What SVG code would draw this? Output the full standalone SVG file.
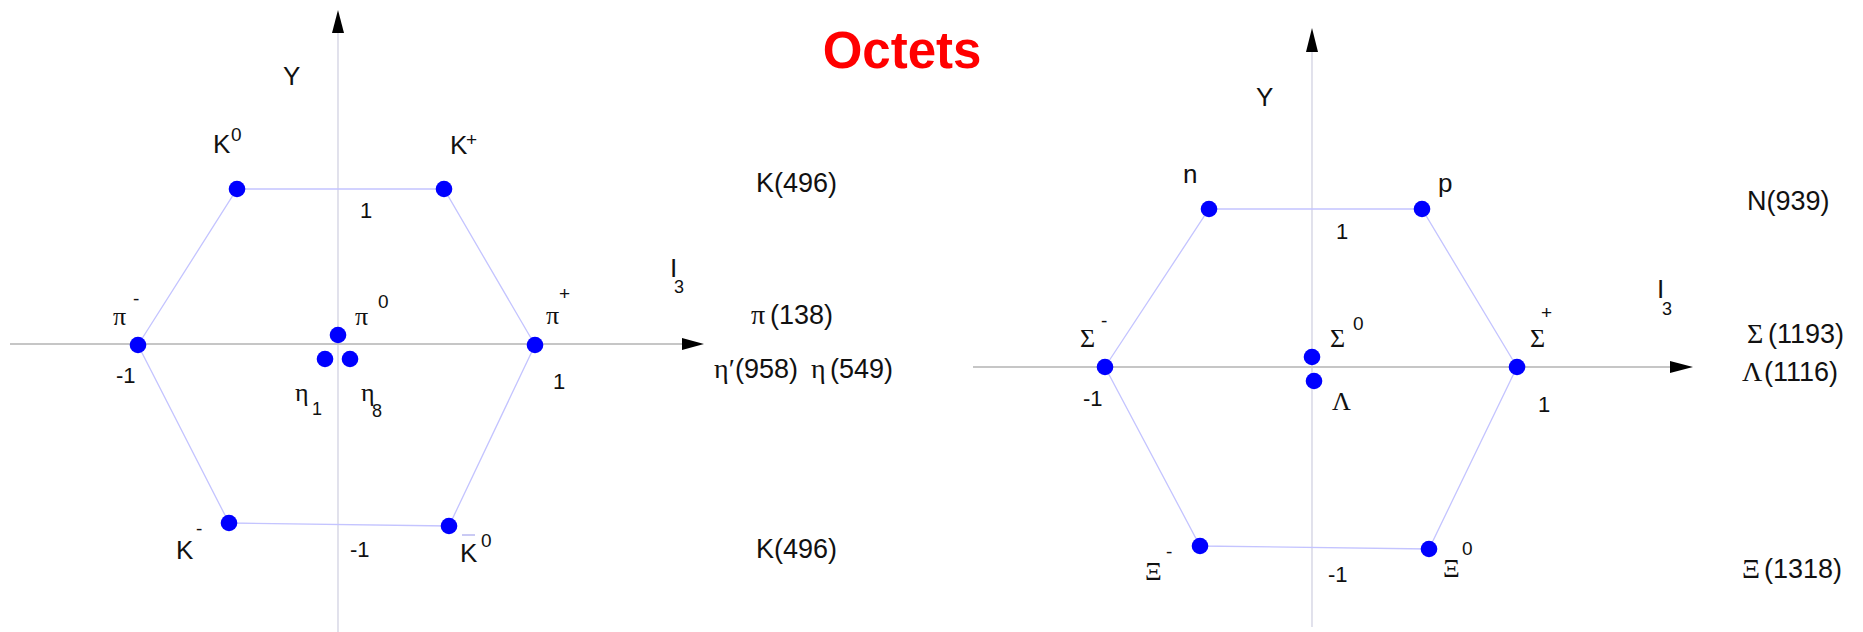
<svg xmlns="http://www.w3.org/2000/svg" width="1863" height="632" viewBox="0 0 1863 632">
<defs>
<style>
.dot{fill:#0000ff}
.edge{stroke:#c4c4ff;stroke-width:1.3;fill:none}
.haxis{stroke:#c6c6c6;stroke-width:2}
.vaxis{stroke:#d2d2e2;stroke-width:1.3}
.arrow{fill:#000}
.lbl{font-family:"Liberation Sans",Arial,sans-serif;font-size:26px;fill:#111}
.sup{font-family:"Liberation Sans",Arial,sans-serif;font-size:19px;fill:#111}
.sub{font-family:"Liberation Sans",Arial,sans-serif;font-size:18px;fill:#111}
.gr{font-family:"Liberation Serif","Times New Roman",serif;font-size:26px;fill:#111}
.tick{font-family:"Liberation Sans",Arial,sans-serif;font-size:22px;fill:#111}
.mass{font-family:"Liberation Sans",Arial,sans-serif;font-size:27px;fill:#111}
.massgr{font-family:"Liberation Serif","Times New Roman",serif;font-size:28px;fill:#111}
.title{font-family:"Liberation Sans",Arial,sans-serif;font-weight:bold;font-size:51px;fill:#ff0000}
</style>
</defs>
<rect width="1863" height="632" fill="#ffffff"/>

<text class="title" x="902" y="68" text-anchor="middle">Octets</text>

<g id="connectors">
  <line class="vaxis" x1="338" y1="30" x2="338" y2="632"/>
  <line class="haxis" x1="10" y1="344" x2="684" y2="344"/>
  <polygon class="arrow" points="338,10 332,33 344,33"/>
  <polygon class="arrow" points="704,344 682,338 682,350"/>
  <polygon class="edge" points="237,189 444,189 535,345 449,526 229,523 138,345"/>
  <line class="vaxis" x1="1312" y1="50" x2="1312" y2="627"/>
  <line class="haxis" x1="973" y1="367" x2="1672" y2="367"/>
  <polygon class="arrow" points="1312,28 1306,52 1318,52"/>
  <polygon class="arrow" points="1693,367 1670,361 1670,373"/>
  <polygon class="edge" points="1209,209 1422,209 1517,367 1429,549 1200,546 1105,367"/>
</g>

<g id="left-axis-labels">
  <text class="lbl" x="283" y="85" font-size="28">Y</text>
  <text class="lbl" x="670" y="277" font-size="28">I</text>
  <text class="sub" x="674" y="293">3</text>
  <text class="tick" x="360" y="218">1</text>
  <text class="tick" x="116" y="383">-1</text>
  <text class="tick" x="553" y="389">1</text>
  <text class="tick" x="350" y="557">-1</text>
</g>

<g id="K0">
  <circle class="dot" cx="237" cy="189" r="8.3"/>
  <text class="lbl" x="213" y="153">K</text>
  <text class="sup" x="231" y="141">0</text>
</g>
<g id="Kplus">
  <circle class="dot" cx="444" cy="189" r="8.3"/>
  <text class="lbl" x="450" y="154">K</text>
  <text class="sup" x="466" y="146" font-size="16">+</text>
</g>
<g id="piminus">
  <circle class="dot" cx="138" cy="345" r="8.3"/>
  <text class="gr" x="113" y="325">π</text>
  <text class="sup" x="133" y="305">-</text>
</g>
<g id="pi0">
  <circle class="dot" cx="338" cy="335" r="8.3"/>
  <text class="gr" x="355" y="325">π</text>
  <text class="sup" x="378" y="308">0</text>
</g>
<g id="piplus">
  <circle class="dot" cx="535" cy="345" r="8.3"/>
  <text class="gr" x="546" y="324">π</text>
  <text class="sup" x="559" y="300">+</text>
</g>
<g id="eta1">
  <circle class="dot" cx="325" cy="359" r="8.3"/>
  <text class="gr" x="295" y="401" font-size="25">η</text>
  <text class="sub" x="312" y="415">1</text>
</g>
<g id="eta8">
  <circle class="dot" cx="350" cy="359" r="8.3"/>
  <text class="gr" x="361" y="401" font-size="25">η</text>
  <text class="sub" x="372" y="417">8</text>
</g>
<g id="Kminus">
  <circle class="dot" cx="229" cy="523" r="8.3"/>
  <text class="lbl" x="176" y="559">K</text>
  <text class="sup" x="196" y="535">-</text>
</g>
<g id="K0bar">
  <circle class="dot" cx="449" cy="526" r="8.3"/>
  <line x1="462" y1="535" x2="475" y2="535" stroke="#b8b8f0" stroke-width="1.5"/>
  <text class="lbl" x="460" y="562">K</text>
  <text class="sup" x="481" y="547">0</text>
</g>

<g id="left-masses">
  <text class="mass" x="756" y="192">K(496)</text>
  <text class="massgr" x="751" y="324">π</text>
  <text class="mass" x="770" y="324">(138)</text>
  <text class="massgr" x="714" y="378">η′</text>
  <text class="mass" x="735" y="378">(958)</text>
  <text class="massgr" x="811" y="378">η</text>
  <text class="mass" x="830" y="378">(549)</text>
  <text class="mass" x="756" y="558">K(496)</text>
</g>

<g id="right-axis-labels">
  <text class="lbl" x="1256" y="106" font-size="28">Y</text>
  <text class="lbl" x="1657" y="298" font-size="28">I</text>
  <text class="sub" x="1662" y="315">3</text>
  <text class="tick" x="1336" y="239">1</text>
  <text class="tick" x="1083" y="406">-1</text>
  <text class="tick" x="1538" y="412">1</text>
  <text class="tick" x="1328" y="582">-1</text>
</g>

<g id="n">
  <circle class="dot" cx="1209" cy="209" r="8.3"/>
  <text class="lbl" x="1183" y="183" font-size="27">n</text>
</g>
<g id="p">
  <circle class="dot" cx="1422" cy="209" r="8.3"/>
  <text class="lbl" x="1438" y="192" font-size="27">p</text>
</g>
<g id="Sigmaminus">
  <circle class="dot" cx="1105" cy="367" r="8.3"/>
  <text class="gr" x="1080" y="347" font-size="25">Σ</text>
  <text class="sup" x="1101" y="327">-</text>
</g>
<g id="Sigma0">
  <circle class="dot" cx="1312" cy="357" r="8.3"/>
  <text class="gr" x="1330" y="347" font-size="25">Σ</text>
  <text class="sup" x="1353" y="330">0</text>
</g>
<g id="Lambda">
  <circle class="dot" cx="1314" cy="381" r="8.3"/>
  <text class="gr" x="1332" y="410" font-size="26">Λ</text>
</g>
<g id="Sigmaplus">
  <circle class="dot" cx="1517" cy="367" r="8.3"/>
  <text class="gr" x="1530" y="347" font-size="25">Σ</text>
  <text class="sup" x="1541" y="319" font-size="17">+</text>
</g>
<g id="Ximinus">
  <circle class="dot" cx="1200" cy="546" r="8.3"/>
  <text class="gr" x="1145" y="580" font-size="28">Ξ</text>
  <text class="sup" x="1166" y="558">-</text>
</g>
<g id="Xi0">
  <circle class="dot" cx="1429" cy="549" r="8.3"/>
  <text class="gr" x="1443" y="577" font-size="28">Ξ</text>
  <text class="sup" x="1462" y="555">0</text>
</g>

<g id="right-masses">
  <text class="mass" x="1747" y="210">N(939)</text>
  <text class="massgr" x="1747" y="343">Σ</text>
  <text class="mass" x="1768" y="343">(1193)</text>
  <text class="massgr" x="1742" y="381">Λ</text>
  <text class="mass" x="1764" y="381">(1116)</text>
  <text class="massgr" x="1742" y="578">Ξ</text>
  <text class="mass" x="1764" y="578">(1318)</text>
</g>
</svg>
